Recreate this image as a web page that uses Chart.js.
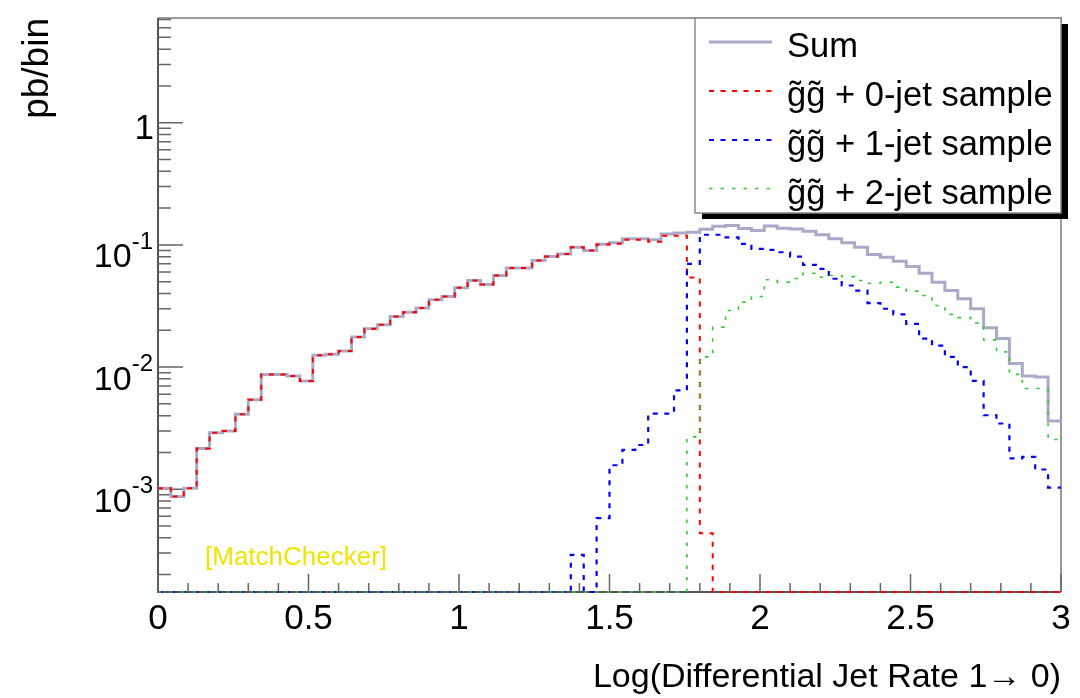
<!DOCTYPE html>
<html>
<head>
<meta charset="utf-8">
<script src="https://cdn.jsdelivr.net/npm/chart.js@4.4.1/dist/chart.umd.min.js"></script>
<style>
  html, body { margin: 0; padding: 0; background: #ffffff; }
  #wrap { width: 1080px; height: 698px; position: relative; }
  canvas { display: block; }
</style>
</head>
<body>
<div id="wrap"><canvas id="c" width="1080" height="698"></canvas></div>
<script>
// ---------------- data ----------------
const xRange = [0, 3];
const nBins = 70;
const yRange = [1.44e-4, 7.2];

const xTickValues = [0, 0.5, 1, 1.5, 2, 2.5, 3];
const xTickLabels = ["0", "0.5", "1", "1.5", "2", "2.5", "3"];
const yTickValues = [1e-3, 1e-2, 1e-1, 1];
const yTickBase = ["10", "10", "10", "1"];
const yTickExp = ["-3", "-2", "-1", ""];

const xTitle = "Log(Differential Jet Rate 1\u2192 0)";
const yTitle = "pb/bin";
const tagText = "[MatchChecker]";

const seriesNames = [
  "Sum",
  "g\u0303g\u0303 + 0-jet sample",
  "g\u0303g\u0303 + 1-jet sample",
  "g\u0303g\u0303 + 2-jet sample"
];

const sumValues = [
  1.02e-3, 8.7e-4, 1.02e-3, 2.15e-3, 2.9e-3, 3.0e-3, 4.1e-3, 5.4e-3, 8.7e-3, 8.7e-3,
  8.45e-3, 7.7e-3, 1.25e-2, 1.27e-2, 1.35e-2, 1.76e-2, 2.06e-2, 2.22e-2, 2.59e-2, 2.81e-2,
  3.05e-2, 3.55e-2, 3.78e-2, 4.46e-2, 5.11e-2, 4.74e-2, 5.61e-2, 6.48e-2, 6.48e-2, 7.45e-2,
  8.02e-2, 8.44e-2, 9.58e-2, 8.98e-2, 0.101, 0.104, 0.112, 0.112, 0.110, 0.123,
  0.125, 0.127, 0.134, 0.142, 0.144, 0.136, 0.131, 0.143, 0.137, 0.135,
  0.129, 0.121, 0.112, 0.104, 0.0956, 0.0833, 0.0792, 0.0735, 0.0665, 0.0586,
  0.0495, 0.0423, 0.0362, 0.030, 0.021, 0.0171, 0.0107, 0.00843, 0.00828, 0.00362
];

const jet0Values = [
  1.02e-3, 8.7e-4, 1.02e-3, 2.15e-3, 2.9e-3, 3.0e-3, 4.1e-3, 5.4e-3, 8.7e-3, 8.7e-3,
  8.45e-3, 7.7e-3, 1.25e-2, 1.27e-2, 1.35e-2, 1.76e-2, 2.06e-2, 2.22e-2, 2.59e-2, 2.81e-2,
  3.05e-2, 3.55e-2, 3.78e-2, 4.46e-2, 5.11e-2, 4.74e-2, 5.61e-2, 6.48e-2, 6.48e-2, 7.45e-2,
  8.02e-2, 8.44e-2, 9.55e-2, 8.98e-2, 0.1005, 0.102, 0.110, 0.110, 0.106, 0.119,
  0.119, 0.054, 4.35e-4, 0, 0, 0, 0, 0, 0, 0,
  0, 0, 0, 0, 0, 0, 0, 0, 0, 0,
  0, 0, 0, 0, 0, 0, 0, 0, 0, 0
];

const jet1Values = [
  0, 0, 0, 0, 0, 0, 0, 0, 0, 0,
  0, 0, 0, 0, 0, 0, 0, 0, 0, 0,
  0, 0, 0, 0, 0, 0, 0, 0, 0, 0,
  0, 0, 2.9e-4, 0, 5.8e-4, 1.57e-3, 2.1e-3, 2.3e-3, 4.16e-3, 4.16e-3,
  6.45e-3, 0.070, 0.121, 0.121, 0.115, 0.102, 0.0927, 0.091, 0.087, 0.080,
  0.0687, 0.0637, 0.0528, 0.0465, 0.0423, 0.0334, 0.030, 0.027, 0.0226, 0.0171,
  0.0150, 0.0121, 0.0100, 0.00769, 0.00403, 0.00345, 0.00179, 0.00184, 0.00145, 0.00103
];

const jet2Values = [
  0, 0, 0, 0, 0, 0, 0, 0, 0, 0,
  0, 0, 0, 0, 0, 0, 0, 0, 0, 0,
  0, 0, 0, 0, 0, 0, 0, 0, 0, 0,
  0, 0, 0, 0, 0, 0, 0, 0, 0, 0,
  0, 2.68e-3, 0.0121, 0.0212, 0.029, 0.034, 0.0378, 0.0518, 0.0496, 0.053,
  0.0586, 0.0543, 0.0561, 0.055, 0.0511, 0.0485, 0.0495, 0.0451, 0.0418, 0.0385,
  0.0319, 0.027, 0.0254, 0.0229, 0.0167, 0.0133, 0.0087, 0.00667, 0.00667, 0.00255
];

// ---------------- styling ----------------
const FONT = '"Liberation Sans", Arial, Helvetica, sans-serif';
const seriesStyles = [
  { color: "#a9a9c8", width: 3, dash: [] },
  { color: "#ff0000", width: 2, dash: [5, 6.5] },
  { color: "#0000ff", width: 2.2, dash: [5, 6.5] },
  { color: "#33cc33", width: 1.6, dash: [3.5, 8] }
];
const seriesValues = [sumValues, jet0Values, jet1Values, jet2Values];

// histogram outline: one point per bin's lower edge plus the upper end
function histPoints(values) {
  const w = (xRange[1] - xRange[0]) / nBins;
  const pts = values.map((v, k) => ({ x: xRange[0] + k * w, y: v > 0 ? v : yRange[0] }));
  const last = values[values.length - 1];
  pts.push({ x: xRange[1], y: last > 0 ? last : yRange[0] });
  return pts;
}

const datasets = seriesValues.map((vals, i) => ({
  label: seriesNames[i],
  data: histPoints(vals),
  borderColor: seriesStyles[i].color,
  borderWidth: seriesStyles[i].width,
  borderDash: seriesStyles[i].dash,
  stepped: 'before',
  pointRadius: 0,
  pointHoverRadius: 0,
  fill: false,
  tension: 0,
  order: 3 - i,
  clip: 3
}));

// ---------------- plugins ----------------
const framePlugin = {
  id: 'rootFrame',
  beforeDatasetsDraw(chart) {
    const { ctx, chartArea: a, scales } = chart;
    const xs = scales.x, ys = scales.y;
    ctx.save();
    // top & right frame
    ctx.strokeStyle = '#9a9a9a';
    ctx.lineWidth = 2;
    ctx.beginPath();
    ctx.moveTo(a.left, a.top); ctx.lineTo(a.right, a.top); ctx.lineTo(a.right, a.bottom);
    ctx.stroke();
    // axes
    ctx.strokeStyle = '#555555';
    ctx.lineWidth = 2;
    ctx.beginPath();
    ctx.moveTo(a.left, a.top); ctx.lineTo(a.left, a.bottom); ctx.lineTo(a.right, a.bottom);
    ctx.stroke();
    // x ticks (inside)
    ctx.lineWidth = 1.5;
    ctx.strokeStyle = '#666666';
    ctx.beginPath();
    for (let i = 0; i <= 30; i++) {
      const v = xRange[0] + i * 0.1;
      const px = xs.getPixelForValue(v);
      const len = (i % 5 === 0) ? 18 : 9;
      ctx.moveTo(px, a.bottom); ctx.lineTo(px, a.bottom - len);
    }
    // y ticks (inside)
    for (let e = -4; e <= 0; e++) {
      for (let m = 1; m <= 9; m++) {
        const v = m * Math.pow(10, e);
        if (v < yRange[0] || v > yRange[1]) continue;
        const py = ys.getPixelForValue(v);
        const len = (m === 1) ? 25 : 13;
        ctx.moveTo(a.left, py); ctx.lineTo(a.left + len, py);
      }
    }
    ctx.stroke();
    // y tick labels with superscript exponents
    ctx.fillStyle = '#000000';
    ctx.textBaseline = 'alphabetic';
    ctx.textAlign = 'right';
    yTickValues.forEach((v, i) => {
      const py = ys.getPixelForValue(v);
      if (yTickExp[i]) {
        ctx.font = '24px ' + FONT;
        const ew = ctx.measureText(yTickExp[i]).width;
        ctx.fillText(yTickExp[i], 153, py + 4);
        ctx.font = '34px ' + FONT;
        ctx.fillText(yTickBase[i], 153 - ew, py + 22.5);
      } else {
        ctx.font = '35px ' + FONT;
        ctx.fillText(yTickBase[i], 154, py + 16.5);
      }
    });
    ctx.restore();
  },
  afterDatasetsDraw(chart) {
    const { ctx } = chart;
    ctx.save();
    // tag text
    ctx.font = '26px ' + FONT;
    ctx.fillStyle = '#f0e400';
    ctx.textAlign = 'left';
    ctx.textBaseline = 'alphabetic';
    ctx.fillText(tagText, 205, 565);

    // legend box with shadow
    const L = 695, T = 18, R = 1061, B = 213;
    ctx.fillStyle = '#000000';
    ctx.fillRect(R, T + 6, 7, B - T);
    ctx.fillRect(L + 7, B, R - L, 6);
    ctx.fillStyle = '#ffffff';
    ctx.fillRect(L, T, R - L, B - T);
    ctx.strokeStyle = '#8a8a8a';
    ctx.lineWidth = 1.5;
    ctx.strokeRect(L, T, R - L, B - T);

    const baselines = [57, 106, 155, 203.5];
    chart.data.datasets.forEach((ds, i) => {
      const yb = baselines[i];
      const ly = yb - 15;
      ctx.strokeStyle = ds.borderColor;
      ctx.lineWidth = ds.borderWidth;
      ctx.setLineDash(ds.borderDash || []);
      ctx.beginPath();
      ctx.moveTo(709, ly); ctx.lineTo(772, ly);
      ctx.stroke();
      ctx.setLineDash([]);
      ctx.fillStyle = '#000000';
      ctx.font = '34.5px ' + FONT;
      ctx.textAlign = 'left';
      ctx.fillText(ds.label, 787, yb);
    });
    ctx.restore();
  }
};

// ---------------- chart ----------------
new Chart(document.getElementById('c'), {
  type: 'line',
  data: { datasets },
  options: {
    responsive: false,
    animation: false,
    devicePixelRatio: 1,
    layout: { padding: { top: 18, right: 19, left: 0, bottom: 0 } },
    plugins: {
      legend: { display: false },
      tooltip: { enabled: false }
    },
    scales: {
      x: {
        type: 'linear',
        min: xRange[0],
        max: xRange[1],
        grid: { display: false, drawTicks: false },
        border: { display: false },
        afterBuildTicks(scale) { scale.ticks = xTickValues.map(v => ({ value: v })); },
        afterFit(scale) { scale.height = 106; },
        ticks: {
          padding: 6,
          color: '#000000',
          font: { family: FONT, size: 35 },
          maxRotation: 0,
          autoSkip: false,
          callback: (v) => { const i = xTickValues.indexOf(v); return i >= 0 ? xTickLabels[i] : ''; }
        },
        title: {
          display: true,
          text: xTitle,
          align: 'end',
          color: '#000000',
          font: { family: FONT, size: 34 },
          padding: { top: 0, bottom: 0 }
        }
      },
      y: {
        type: 'logarithmic',
        min: yRange[0],
        max: yRange[1],
        grid: { display: false, drawTicks: false },
        border: { display: false },
        ticks: { display: false },
        afterFit(scale) { scale.width = 158; },
        title: {
          display: true,
          text: yTitle,
          align: 'end',
          color: '#000000',
          font: { family: FONT, size: 37 },
          padding: { top: 16, bottom: 0 }
        }
      }
    }
  },
  plugins: [framePlugin]
});
</script>
</body>
</html>
